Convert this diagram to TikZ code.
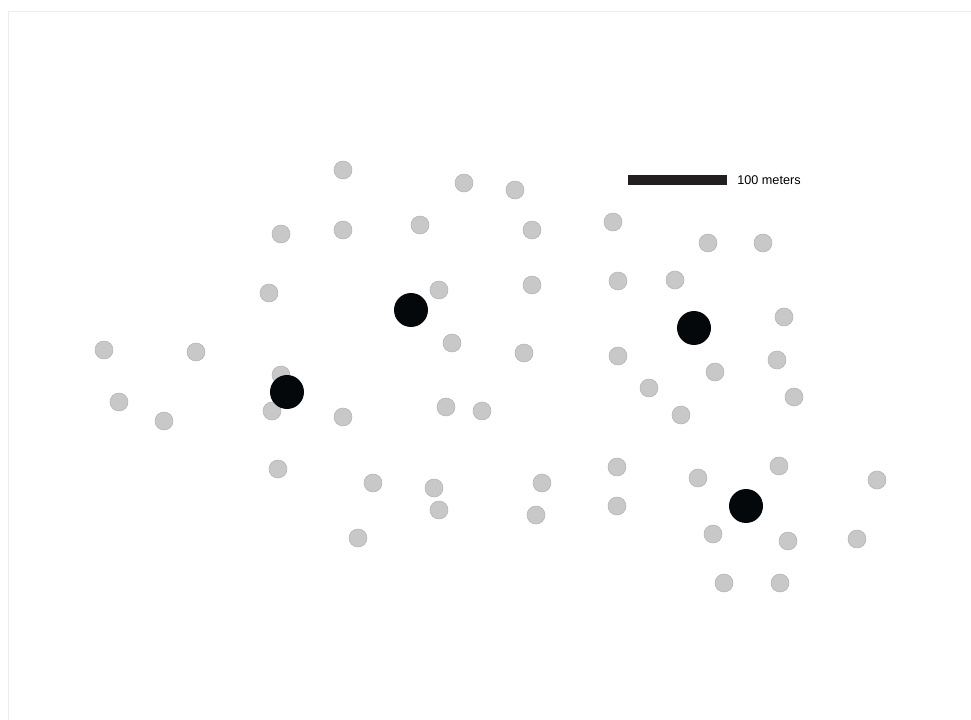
\documentclass[tikz,border=0pt]{standalone}
\usepackage{fontspec}
\setmainfont{Liberation Sans}
\usepackage{tikz}
\usetikzlibrary{positioning}
\usepackage{xcolor}
\definecolor{sitegrey}{RGB}{200,200,200}
\definecolor{siteedge}{RGB}{178,178,178}
\definecolor{hubblack}{RGB}{5,8,10}
\definecolor{barblack}{RGB}{35,31,32}
\definecolor{framegrey}{RGB}{236,236,236}

\begin{document}
\begin{tikzpicture}[x=0.02cm, y=-0.02cm,
    site/.style={circle, draw=siteedge, line width=0.3pt, fill=sitegrey,
        minimum size=0.36cm, inner sep=0pt},
    hub/.style={circle, fill=hubblack, minimum size=0.68cm, inner sep=0pt},
    scalebar/.style={line width=0.2cm, barblack}
]
    \useasboundingbox (0,0) rectangle (971,720);
    % faint page frame
    \draw[framegrey, line width=0.4pt] (8,720) -- (8,11) -- (971,11);

    % grey sites
    \foreach \x/\y [count=\i] in {343/170, 464/183, 515/190, 281/234, 343/230,
        420/225, 532/230, 613/222, 708/243, 763/243, 269/293, 439/290, 532/285,
        618/281, 675/280, 784/317, 104/350, 196/352, 452/343, 524/353, 618/356,
        777/360, 281/375, 715/372, 649/388, 794/397, 119/402, 164/421, 272/411,
        343/417, 446/407, 482/411, 681/415, 278/469, 373/483, 434/488, 542/483,
        617/467, 698/478, 779/466, 877/480, 439/510, 536/515, 617/506, 713/534,
        788/541, 857/539, 358/538, 724/583, 780/583}
        \node[site] (s\i) at (\x,\y) {};

    % black hubs
    \node[hub] (h1) at (411,310) {};
    \node[hub] (h2) at (694,328) {};
    \node[hub] (h3) at (287,392) {};
    \node[hub] (h4) at (746,506) {};

    % scale bar
    \coordinate (barL) at (628,180);
    \coordinate (barR) at (727,180);
    \draw[scalebar] (barL) -- (barR);
    \node[right=0.2cm of barR, inner sep=0pt, font=\fontsize{7.2}{8}\selectfont] (barlabel) {100 meters};
\end{tikzpicture}
\end{document}
